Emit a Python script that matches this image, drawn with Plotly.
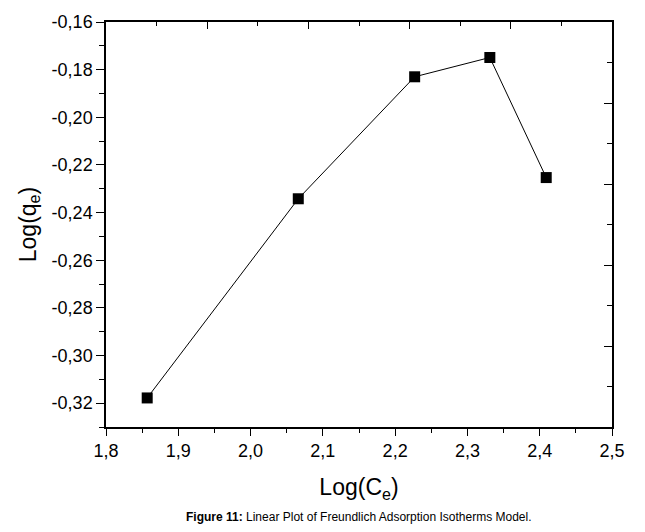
import plotly.graph_objects as go

# Freundlich linear plot data
log_ce = [1.857, 2.066, 2.227, 2.331, 2.409]
log_qe = [-0.3178, -0.2342, -0.1830, -0.1749, -0.2253]

x_ticks = [1.8, 1.9, 2.0, 2.1, 2.2, 2.3, 2.4, 2.5]
x_tick_labels = ['1,8', '1,9', '2,0', '2,1', '2,2', '2,3', '2,4', '2,5']
y_ticks = [-0.32, -0.30, -0.28, -0.26, -0.24, -0.22, -0.20, -0.18, -0.16]
y_tick_labels = ['-0,32', '-0,30', '-0,28', '-0,26', '-0,24', '-0,22', '-0,20', '-0,18', '-0,16']

fig = go.Figure()

fig.add_trace(go.Scatter(
    x=log_ce, y=log_qe,
    mode='lines+markers',
    line=dict(color='black', width=1),
    marker=dict(symbol='square', size=11, color='black'),
    showlegend=False,
))

# empty trace so the mirrored top/right axes get drawn
fig.add_trace(go.Scatter(x=[], y=[], xaxis='x2', yaxis='y2',
                         showlegend=False, hoverinfo='skip'))

tick_font = dict(family='Liberation Sans, Arial, sans-serif', size=18, color='black')
title_font = dict(family='Liberation Sans, Arial, sans-serif', size=23, color='black')

fig.update_layout(
    width=645, height=532,
    margin=dict(l=98, r=41, t=14, b=113, autoexpand=False),
    plot_bgcolor='white', paper_bgcolor='white',
    xaxis=dict(
        range=[1.8, 2.5], tickvals=x_ticks, ticktext=x_tick_labels, automargin=False,
        ticks='outside', ticklen=7, tickwidth=1.3, tickcolor='black',
        minor=dict(dtick=0.05, tick0=1.8, ticks='outside', ticklen=4, tickwidth=1.3, tickcolor='black'),
        showline=True, linecolor='black', linewidth=1.5, showgrid=False, zeroline=False,
        tickfont=tick_font,
        title=dict(text='Log(C<sub>e</sub>)', font=title_font, standoff=19),
    ),
    yaxis=dict(
        range=[-0.33, -0.16], tickvals=y_ticks, ticktext=y_tick_labels, automargin=False,
        ticks='outside', ticklen=8, tickwidth=1.3, tickcolor='black',
        minor=dict(dtick=0.01, tick0=-0.33, ticks='outside', ticklen=5, tickwidth=1.3, tickcolor='black'),
        showline=True, linecolor='black', linewidth=1.5, showgrid=False, zeroline=False,
        tickfont=tick_font,
        title=dict(text='Log(q<sub>e</sub>)', font=title_font, standoff=9),
    ),
    xaxis2=dict(
        overlaying='x', side='top', range=[0, 1], dtick=0.2, automargin=False,
        ticks='inside', ticklen=7, tickwidth=1.3, tickcolor='black',
        minor=dict(dtick=0.1, ticks='inside', ticklen=4, tickwidth=1.3, tickcolor='black'),
        showticklabels=False, showline=True, linecolor='black', linewidth=1.5,
        showgrid=False, zeroline=False,
    ),
    yaxis2=dict(
        overlaying='y', side='right', range=[0, 1], dtick=0.2, automargin=False,
        ticks='inside', ticklen=8, tickwidth=1.3, tickcolor='black',
        minor=dict(dtick=0.1, ticks='inside', ticklen=5, tickwidth=1.3, tickcolor='black'),
        showticklabels=False, showline=True, linecolor='black', linewidth=1.5,
        showgrid=False, zeroline=False,
    ),
    annotations=[
        dict(
            text='<b>Figure 11:</b> Linear Plot of Freundlich Adsorption Isotherms Model.',
            x=0.5, y=-0.222, xref='paper', yref='paper', xanchor='center', yanchor='middle',
            showarrow=False,
            font=dict(family='Liberation Sans Narrow, Arial Narrow, sans-serif', size=12, color='black'),
        )
    ],
)

fig.write_html("out.html")
